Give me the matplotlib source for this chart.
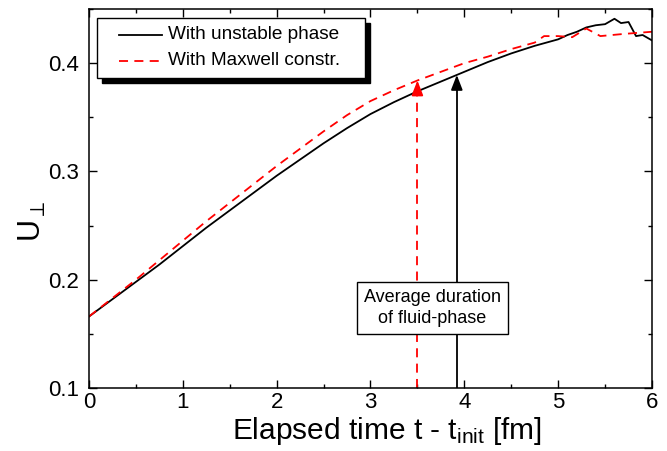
import numpy as np
import matplotlib.pyplot as plt
from matplotlib.patches import Rectangle
from matplotlib.ticker import MultipleLocator

plt.rcParams['font.family'] = ['Liberation Sans', 'DejaVu Sans']
plt.rcParams['mathtext.fontset'] = 'custom'
plt.rcParams['mathtext.rm'] = 'Liberation Sans'
plt.rcParams['mathtext.it'] = 'Liberation Sans'

# U_perp vs elapsed time, unstable phase kept
t_unst = [0, 0.25, 0.5, 0.75, 1, 1.25, 1.5, 1.75, 2, 2.25, 2.5, 2.75, 3, 3.25,
          3.5, 3.75, 4, 4.25, 4.5, 4.75, 5, 5.1, 5.2, 5.3, 5.4, 5.5, 5.6,
          5.67, 5.75, 5.83, 5.9, 6]
u_unst = [0.166, 0.182, 0.198, 0.214, 0.231, 0.248, 0.264, 0.280, 0.296, 0.311,
          0.326, 0.340, 0.353, 0.364, 0.374, 0.383, 0.392, 0.401, 0.409, 0.416,
          0.422, 0.426, 0.429, 0.433, 0.435, 0.436, 0.441, 0.437, 0.438, 0.425,
          0.426, 0.421]

# same with Maxwell construction
t_maxw = [0, 0.25, 0.5, 0.75, 1, 1.25, 1.5, 1.75, 2, 2.25, 2.5, 2.75, 3, 3.25,
          3.5, 3.75, 4, 4.25, 4.5, 4.75, 4.85, 5, 5.15, 5.3, 5.45, 5.7, 6]
u_maxw = [0.166, 0.183, 0.200, 0.218, 0.236, 0.254, 0.271, 0.288, 0.305, 0.321,
          0.337, 0.352, 0.365, 0.375, 0.384, 0.392, 0.400, 0.406, 0.413, 0.419,
          0.425, 0.425, 0.424, 0.432, 0.425, 0.427, 0.429]

# average fluid-phase durations
dur_maxw = 3.5
dur_unst = 3.92

labels = ['With unstable phase', 'With Maxwell constr.']
colors = ['black', 'red']
dash = (0, (5, 3.5))
styles = ['-', dash]

fig = plt.figure(figsize=(6.67, 4.51), dpi=100)
ax = fig.add_axes([0.1334, 0.1397, 0.8441, 0.8403])

ax.plot(t_unst, u_unst, color=colors[0], lw=1.3, ls=styles[0])
ax.plot(t_maxw, u_maxw, color=colors[1], lw=1.3, ls=styles[1])

ymin = 0.1
for x, tt, uu, col, ls in [(dur_maxw, t_maxw, u_maxw, 'red', dash),
                           (dur_unst, t_unst, u_unst, 'black', '-')]:
    top = np.interp(x, tt, uu)
    ax.plot([x, x], [ymin, top - 0.01], color=col, lw=1.3, ls=ls)
    ax.annotate('', xy=(x, top), xytext=(x, top - 0.011),
                arrowprops=dict(arrowstyle='-|>,head_length=0.9,head_width=0.35',
                                color=col, lw=1.3, shrinkA=0, shrinkB=0))

ax.text(3.66, 0.174, 'Average duration\nof fluid-phase', fontsize=13,
        ha='center', va='center', linespacing=1.3, zorder=5,
        bbox=dict(boxstyle='square,pad=0.4', fc='white', ec='black', lw=1))

ax.set_xlim(0, 6)
ax.set_ylim(0.1, 0.45)
ax.xaxis.set_major_locator(MultipleLocator(1))
ax.xaxis.set_minor_locator(MultipleLocator(0.5))
ax.yaxis.set_major_locator(MultipleLocator(0.1))
ax.yaxis.set_minor_locator(MultipleLocator(0.05))
ax.tick_params(which='both', direction='in', top=True, right=True, width=1)
ax.tick_params(which='major', length=6, labelsize=16)
ax.tick_params(which='minor', length=3)
ax.tick_params(axis='x', pad=3)
ax.tick_params(axis='y', pad=7)
for s in ax.spines.values():
    s.set_linewidth(1.1)

ax.set_xlabel(r'Elapsed time t - t$_{\mathrm{init}}$ [fm]', fontsize=21.5)
ax.xaxis.set_label_coords(0.53, -0.07)
ax.set_ylabel(r'U$_{\perp}$', fontsize=22)
ax.yaxis.set_label_coords(-0.072, 0.44)

# legend box with solid drop shadow, in axes fractions
bx0, bx1, by0, by1 = 0.0142, 0.490, 0.818, 0.976
sdx, sdy = 0.009, 0.013
ax.add_patch(Rectangle((bx0 + sdx, by0 - sdy), bx1 - bx0, by1 - by0,
                       transform=ax.transAxes, fc='black', ec='black', zorder=6))
ax.add_patch(Rectangle((bx0, by0), bx1 - bx0, by1 - by0,
                       transform=ax.transAxes, fc='white', ec='black', lw=1, zorder=7))
for row_y, lab, col, ls in zip([0.932, 0.863], labels, colors, styles):
    ax.plot([0.0533, 0.1297], [row_y, row_y], transform=ax.transAxes,
            color=col, ls=ls, lw=1.3, zorder=8)
    ax.text(0.140, row_y, lab, transform=ax.transAxes, fontsize=13.7,
            va='center', ha='left', zorder=8)

plt.savefig('out.png', dpi=100)
